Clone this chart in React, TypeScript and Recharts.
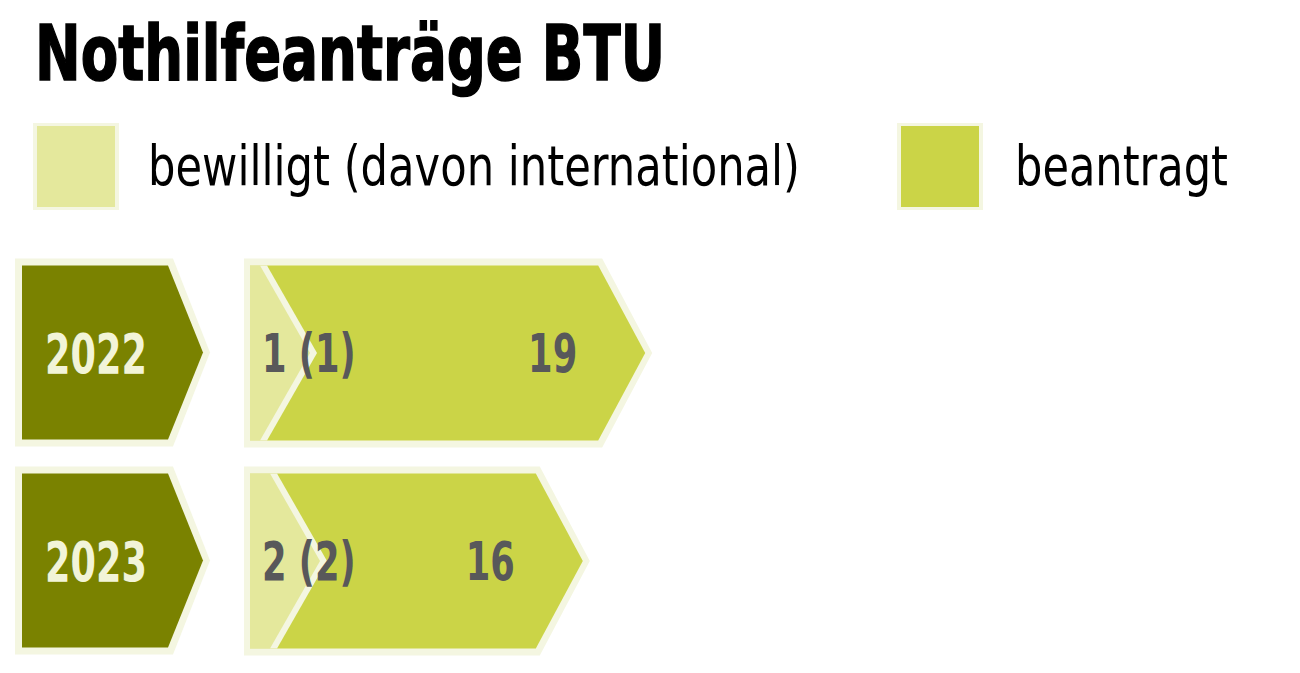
import { BarChart, Bar, XAxis, YAxis, LabelList } from "recharts";

// Werte aus der Grafik
const years = ["2022", "2023"];
const beantragt = [19, 16];
const bewilligt = [1, 2];
const international = [1, 2];

const legendItems = [
  { label: "bewilligt (davon international)", color: "#e4e89c" },
  { label: "beantragt", color: "#cbd447" },
];

const data = years.map((year, i) => ({
  year,
  beantragt: beantragt[i],
  bewilligt: bewilligt[i],
  bewilligtLabel: `${bewilligt[i]} (${international[i]})`,
}));

const FONT = "'Liberation Sans Narrow', 'DejaVu Sans Condensed', 'Roboto Condensed', 'Liberation Sans', sans-serif";
const PALE = "#f4f6e1";
const DARK = "#7a8200";
const LIME = "#cbd447";
const LIGHT = "#e4e89c";
const GREY = "#58585a";
const NARROW = 0.74; // schmale Schrift nachbilden

// Pfeil fuer "beantragt" mit hellem Rand
const BeantragtShape = (props: any) => {
  const { x, y, width, height } = props;
  const tip = x + width;
  const mid = y + height / 2;
  const bottom = y + height;
  const depth = 47;
  const outer = `${x - 6},${y - 7} ${tip - depth + 4},${y - 7} ${tip + 7},${mid} ${tip - depth + 4},${bottom + 7} ${x - 6},${bottom + 7}`;
  const inner = `${x},${y} ${tip - depth},${y} ${tip},${mid} ${tip - depth},${bottom} ${x},${bottom}`;
  return (
    <g>
      <polygon points={outer} fill={PALE} />
      <polygon points={inner} fill={LIME} />
    </g>
  );
};

// kleiner Pfeil fuer "bewilligt", schneidet die Kerbe in den grossen Pfeil
const BewilligtShape = (props: any) => {
  const { x, y, width, height } = props;
  const end = x + width;
  const mid = y + height / 2;
  const bottom = y + height;
  const depth = 50;
  const gap = 7;
  const pale = `${x},${y} ${end + gap},${y} ${end + gap + depth},${mid} ${end + gap},${bottom} ${x},${bottom}`;
  const light = `${x},${y} ${end},${y} ${end + depth},${mid} ${end},${bottom} ${x},${bottom}`;
  return (
    <g>
      <polygon points={pale} fill={PALE} />
      <polygon points={light} fill={LIGHT} />
    </g>
  );
};

const YearTick = (props: any) => {
  const { x, y, payload } = props;
  const top = y - 87;
  const bottom = y + 87;
  const left = x - 228;
  const right = x - 82;
  const tip = x - 47;
  const outer = `${left - 7},${top - 7} ${right + 5},${top - 7} ${tip + 7},${y} ${right + 5},${bottom + 7} ${left - 7},${bottom + 7}`;
  const inner = `${left},${top} ${right},${top} ${tip},${y} ${right},${bottom} ${left},${bottom}`;
  return (
    <g>
      <polygon points={outer} fill={PALE} />
      <polygon points={inner} fill={DARK} />
      <text
        transform={`translate(${left + 74},${y + 20}) scale(${NARROW},1)`}
        textAnchor="middle"
        fontFamily={FONT}
        fontWeight="bold"
        fontSize={55}
        fill="#f2f4d8"
      >
        {payload.value}
      </text>
    </g>
  );
};

const BeantragtLabel = (props: any) => {
  const { x, y, width, height, value } = props;
  return (
    <text
      transform={`translate(${x + width - 68},${y + height / 2 + 19}) scale(${NARROW},1)`}
      textAnchor="end"
      fontFamily={FONT}
      fontWeight="bold"
      fontSize={53}
      fill={GREY}
    >
      {value}
    </text>
  );
};

const BewilligtLabel = (props: any) => {
  const { x, y, height, value } = props;
  return (
    <text
      transform={`translate(${x + 12},${y + height / 2 + 19}) scale(${NARROW},1)`}
      textAnchor="start"
      fontFamily={FONT}
      fontWeight="bold"
      fontSize={53}
      fill={GREY}
    >
      {value}
    </text>
  );
};

const App = () => {
  return (
    <div style={{ position: "absolute", left: 0, top: 0, width: 1300, height: 673, background: "#fff" }}>
      <svg width={1300} height={240} style={{ position: "absolute", left: 0, top: 0 }}>
        <text
          x={35}
          y={80}
          fontFamily={FONT}
          fontWeight="bold"
          fontSize={76}
          fill="#000"
          stroke="#000"
          strokeWidth={1.5}
          textLength={630}
          lengthAdjust="spacingAndGlyphs"
        >
          Nothilfeanträge BTU
        </text>
        {legendItems.map((item, i) => {
          const sx = i === 0 ? 33 : 897;
          const tx = i === 0 ? 148 : 1015;
          const tw = i === 0 ? 652 : 213;
          return (
            <g key={item.label}>
              <rect x={sx} y={123} width={86} height={87} fill={PALE} />
              <rect x={sx + 4} y={126} width={78} height={81} fill={item.color} />
              <text
                x={tx}
                y={185}
                fontFamily={FONT}
                fontSize={56}
                fill="#000"
                textLength={tw}
                lengthAdjust="spacingAndGlyphs"
              >
                {item.label}
              </text>
            </g>
          );
        })}
      </svg>
      <div style={{ position: "absolute", left: 0, top: 0 }}>
        <BarChart
          width={1300}
          height={673}
          data={data}
          layout="vertical"
          margin={{ top: 248.5, right: 10, bottom: 8.5, left: 0 }}
          barSize={175}
        >
          <XAxis xAxisId="main" type="number" domain={[0, 50]} hide />
          <XAxis xAxisId="small" type="number" domain={[0, 104]} hide />
          <YAxis
            yAxisId="main"
            type="category"
            dataKey="year"
            width={250}
            axisLine={false}
            tickLine={false}
            tickSize={0}
            tickMargin={0}
            tick={<YearTick />}
          />
          <YAxis yAxisId="small" type="category" dataKey="year" hide />
          <Bar
            dataKey="beantragt"
            xAxisId="main"
            yAxisId="main"
            shape={<BeantragtShape />}
            isAnimationActive={false}
          >
            <LabelList dataKey="beantragt" content={<BeantragtLabel />} />
          </Bar>
          <Bar
            dataKey="bewilligt"
            xAxisId="small"
            yAxisId="small"
            shape={<BewilligtShape />}
            isAnimationActive={false}
          >
            <LabelList dataKey="bewilligtLabel" content={<BewilligtLabel />} />
          </Bar>
        </BarChart>
      </div>
    </div>
  );
};

export default App;
